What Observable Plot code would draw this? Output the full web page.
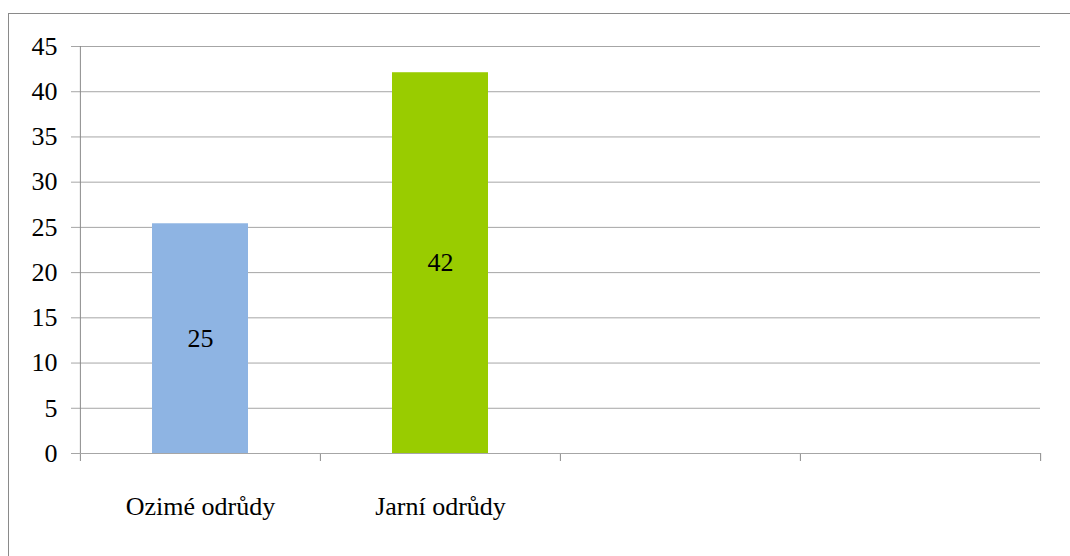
<!DOCTYPE html>
<html>
<head>
<meta charset="utf-8">
<script src="https://cdn.jsdelivr.net/npm/d3@7"></script>
<script src="https://cdn.jsdelivr.net/npm/@observablehq/plot@0.6"></script>
<style>
  body { margin: 0; font-family: "Liberation Serif", "Times New Roman", serif; font-size: 26px; }
  #page { position: relative; width: 1070px; height: 556px; }
  #frame { position: absolute; left: 8px; top: 13px; right: -10px; bottom: -10px;
           border-top: 1px solid #8a8a8a; border-left: 1px solid #8a8a8a;
           font-family: "Liberation Serif"; font-size: 26px; color: #fff; }
  #chart { position: absolute; left: 0; top: 0; }
</style>
</head>
<body>
<div id="page"><div id="frame">&nbsp;</div><div id="chart"></div></div>
<script>
// Počet odrůd podle typu (dvě prázdné kategorie vpravo)
const categories = ["Ozimé odrůdy", "Jarní odrůdy", "", " "];
const values = [25.4, 42.1];
const colors = ["#8eb4e3", "#99cc00"];
const yTicks = [0, 5, 10, 15, 20, 25, 30, 35, 40, 45];

const bars = values.map((v, i) => ({cat: categories[i], value: v, color: colors[i]}));

const W = 1070, H = 556;
const mL = 79, mR = 30, mT = 46, mB = 103;
const step = (W - mL - mR) / categories.length;

const plot = Plot.plot({
  width: W,
  height: H,
  marginLeft: mL,
  marginRight: mR,
  marginTop: mT,
  marginBottom: mB,
  style: {fontFamily: "Liberation Serif", fontSize: "26px", background: "transparent"},
  x: {domain: categories, padding: 0, label: null},
  y: {domain: [0, 45], label: null},
  marks: [
    // vodorovná mřížka, prodloužená o značky vlevo od osy
    Plot.ruleY(yTicks, {stroke: "#a6a6a6", strokeWidth: 1, insetLeft: -8}),
    Plot.axisY({ticks: yTicks, tickSize: 0, tickPadding: 22}),
    Plot.axisX({tickSize: 0, tickPadding: 43}),
    // svislá osa
    Plot.ruleX([categories[0]], {dx: -step / 2, y1: 0, y2: 45, stroke: "#8a8a8a", strokeWidth: 1}),
    // značky na hranicích kategorií
    Plot.ruleX(categories, {dx: -step / 2, y1: 0, y2: 0, insetBottom: -8, stroke: "#8a8a8a"}),
    Plot.ruleX([categories[categories.length - 1]], {dx: step / 2, y1: 0, y2: 0, insetBottom: -8, stroke: "#8a8a8a"}),
    Plot.barY(bars, {x: "cat", y: "value", fill: "color", insetLeft: 72, insetRight: 72}),
    Plot.ruleY([0], {stroke: "#a6a6a6", insetLeft: -8}),
    Plot.text(bars, {x: "cat", y: d => d.value / 2, text: d => String(Math.round(d.value))})
  ]
});

document.getElementById("chart").appendChild(plot);
</script>
</body>
</html>
